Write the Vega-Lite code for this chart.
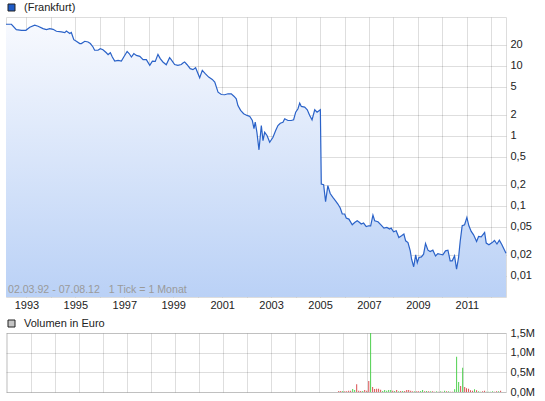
{
  "$schema": "https://vega.github.io/schema/vega-lite/v6.json",
  "background": "white",
  "padding": {"left": 3, "top": 1, "right": 0, "bottom": 0},
  "config": {
    "font": "Liberation Sans",
    "view": {"stroke": "#dddddd"},
    "axis": {"labelFont": "Liberation Sans", "labelFontSize": 11, "labelColor": "#222222", "domain": false, "ticks": false, "title": null, "gridColor": "#000000", "gridOpacity": 0.13, "zindex": 1},
    "legend": {"labelFont": "Liberation Sans", "labelFontSize": 11, "labelColor": "#222222", "title": null, "orient": "none", "symbolType": "square", "symbolSize": 49, "symbolStrokeColor": "#222222", "symbolStrokeWidth": 1, "symbolOpacity": 1, "labelOffset": 7, "padding": 0}
  },
  "datasets": {
    "price": [
      {"d": "1992-03-02", "p": 39.0}, {"d": "1992-05-22", "p": 39.0}, {"d": "1992-08-03", "p": 32.7}, {"d": "1992-10-20", "p": 32.0},
      {"d": "1992-12-24", "p": 32.0}, {"d": "1993-02-20", "p": 35.3}, {"d": "1993-05-05", "p": 37.8}, {"d": "1993-06-24", "p": 36.5},
      {"d": "1993-09-06", "p": 33.8}, {"d": "1993-10-26", "p": 32.7}, {"d": "1993-12-16", "p": 33.8}, {"d": "1994-02-03", "p": 33.0},
      {"d": "1994-03-25", "p": 31.0}, {"d": "1994-06-07", "p": 30.3}, {"d": "1994-07-28", "p": 29.7}, {"d": "1994-08-20", "p": 31.3},
      {"d": "1994-10-10", "p": 28.7}, {"d": "1994-11-02", "p": 29.7}, {"d": "1994-12-09", "p": 23.5}, {"d": "1995-01-16", "p": 22.3},
      {"d": "1995-03-08", "p": 20.7}, {"d": "1995-04-01", "p": 20.7}, {"d": "1995-05-22", "p": 22.3}, {"d": "1995-07-10", "p": 21.8},
      {"d": "1995-08-13", "p": 20.7}, {"d": "1995-09-22", "p": 18.5}, {"d": "1995-10-16", "p": 16.6}, {"d": "1995-12-05", "p": 16.6},
      {"d": "1996-01-08", "p": 17.5}, {"d": "1996-02-17", "p": 16.9}, {"d": "1996-04-08", "p": 15.3}, {"d": "1996-05-04", "p": 14.4},
      {"d": "1996-06-07", "p": 15.3}, {"d": "1996-07-06", "p": 13.3}, {"d": "1996-08-11", "p": 11.6}, {"d": "1996-09-30", "p": 11.9},
      {"d": "1996-11-18", "p": 11.6}, {"d": "1996-12-24", "p": 13.3}, {"d": "1997-02-12", "p": 16.0}, {"d": "1997-03-14", "p": 14.9},
      {"d": "1997-04-17", "p": 13.3}, {"d": "1997-05-23", "p": 14.9}, {"d": "1997-06-30", "p": 14.0}, {"d": "1997-08-20", "p": 13.6},
      {"d": "1997-10-08", "p": 12.2}, {"d": "1997-11-26", "p": 12.2}, {"d": "1998-01-16", "p": 10.1}, {"d": "1998-02-24", "p": 11.6},
      {"d": "1998-04-08", "p": 11.5}, {"d": "1998-05-18", "p": 14.5}, {"d": "1998-06-21", "p": 12.6}, {"d": "1998-07-31", "p": 11.3},
      {"d": "1998-09-19", "p": 10.3}, {"d": "1998-11-08", "p": 13.0}, {"d": "1998-12-02", "p": 12.2}, {"d": "1999-01-22", "p": 10.4},
      {"d": "1999-03-12", "p": 10.1}, {"d": "1999-05-01", "p": 10.4}, {"d": "1999-05-26", "p": 10.9}, {"d": "1999-06-20", "p": 11.3},
      {"d": "1999-07-24", "p": 10.4}, {"d": "1999-09-12", "p": 9.06}, {"d": "1999-10-22", "p": 8.77}, {"d": "1999-12-01", "p": 9.36},
      {"d": "2000-01-31", "p": 6.73}, {"d": "2000-03-10", "p": 8.57}, {"d": "2000-04-23", "p": 7.69}, {"d": "2000-06-13", "p": 6.88},
      {"d": "2000-08-06", "p": 6.37}, {"d": "2000-09-12", "p": 5.83}, {"d": "2000-10-31", "p": 4.19}, {"d": "2000-12-19", "p": 3.88},
      {"d": "2001-02-07", "p": 3.85}, {"d": "2001-03-29", "p": 3.97}, {"d": "2001-05-16", "p": 3.97}, {"d": "2001-06-25", "p": 3.67},
      {"d": "2001-07-30", "p": 3.37}, {"d": "2001-08-24", "p": 2.70}, {"d": "2001-10-03", "p": 2.30}, {"d": "2001-11-17", "p": 2.06},
      {"d": "2002-01-07", "p": 1.95}, {"d": "2002-02-17", "p": 1.88}, {"d": "2002-03-27", "p": 1.65}, {"d": "2002-04-20", "p": 1.26},
      {"d": "2002-05-09", "p": 1.56}, {"d": "2002-06-03", "p": 1.12}, {"d": "2002-07-04", "p": 0.63}, {"d": "2002-08-08", "p": 1.40},
      {"d": "2002-09-02", "p": 0.853}, {"d": "2002-09-27", "p": 1.12}, {"d": "2002-11-01", "p": 1.01}, {"d": "2002-12-11", "p": 0.807},
      {"d": "2003-01-29", "p": 0.953}, {"d": "2003-03-10", "p": 1.19}, {"d": "2003-04-13", "p": 1.40}, {"d": "2003-05-18", "p": 1.51},
      {"d": "2003-06-27", "p": 1.56}, {"d": "2003-07-23", "p": 1.75}, {"d": "2003-09-10", "p": 1.65}, {"d": "2003-10-29", "p": 1.65},
      {"d": "2003-12-03", "p": 1.69}, {"d": "2004-01-03", "p": 2.17}, {"d": "2004-02-06", "p": 2.43}, {"d": "2004-03-03", "p": 2.92},
      {"d": "2004-03-27", "p": 2.62}, {"d": "2004-05-16", "p": 2.56}, {"d": "2004-06-24", "p": 2.35}, {"d": "2004-07-30", "p": 1.95},
      {"d": "2004-09-03", "p": 1.69}, {"d": "2004-10-13", "p": 2.35}, {"d": "2004-11-17", "p": 2.17}, {"d": "2005-01-05", "p": 2.35},
      {"d": "2005-01-19", "p": 0.205}, {"d": "2005-02-23", "p": 0.200}, {"d": "2005-03-24", "p": 0.115}, {"d": "2005-04-27", "p": 0.194},
      {"d": "2005-06-01", "p": 0.150}, {"d": "2005-07-11", "p": 0.132}, {"d": "2005-08-20", "p": 0.118}, {"d": "2005-09-24", "p": 0.106},
      {"d": "2005-10-29", "p": 0.093}, {"d": "2005-11-28", "p": 0.0764}, {"d": "2006-01-03", "p": 0.0764}, {"d": "2006-01-26", "p": 0.0669},
      {"d": "2006-03-07", "p": 0.0647}, {"d": "2006-04-26", "p": 0.0537}, {"d": "2006-06-01", "p": 0.0578}, {"d": "2006-07-09", "p": 0.0612},
      {"d": "2006-08-14", "p": 0.0578}, {"d": "2006-09-07", "p": 0.0550}, {"d": "2006-10-12", "p": 0.0568}, {"d": "2006-11-21", "p": 0.0507},
      {"d": "2006-12-27", "p": 0.0519}, {"d": "2007-01-26", "p": 0.0519}, {"d": "2007-03-01", "p": 0.0738}, {"d": "2007-03-27", "p": 0.0612},
      {"d": "2007-05-15", "p": 0.0593}, {"d": "2007-07-02", "p": 0.0531}, {"d": "2007-08-12", "p": 0.0481}, {"d": "2007-09-25", "p": 0.0491},
      {"d": "2007-11-04", "p": 0.0466}, {"d": "2007-11-28", "p": 0.0481}, {"d": "2008-01-03", "p": 0.0427}, {"d": "2008-02-11", "p": 0.0441},
      {"d": "2008-03-22", "p": 0.0353}, {"d": "2008-05-01", "p": 0.0373}, {"d": "2008-06-05", "p": 0.0395}, {"d": "2008-07-01", "p": 0.0317},
      {"d": "2008-08-05", "p": 0.0299}, {"d": "2008-09-08", "p": 0.0228}, {"d": "2008-09-28", "p": 0.0173}, {"d": "2008-10-29", "p": 0.0135},
      {"d": "2008-11-28", "p": 0.0200}, {"d": "2008-12-22", "p": 0.0155}, {"d": "2009-01-16", "p": 0.0183}, {"d": "2009-02-21", "p": 0.0187},
      {"d": "2009-03-26", "p": 0.0204}, {"d": "2009-04-24", "p": 0.0290}, {"d": "2009-05-30", "p": 0.0233}, {"d": "2009-07-02", "p": 0.0223},
      {"d": "2009-08-11", "p": 0.0233}, {"d": "2009-09-20", "p": 0.0193}, {"d": "2009-10-25", "p": 0.0208}, {"d": "2009-11-29", "p": 0.0204},
      {"d": "2010-01-07", "p": 0.0200}, {"d": "2010-02-16", "p": 0.0228}, {"d": "2010-03-24", "p": 0.0233}, {"d": "2010-04-27", "p": 0.0164},
      {"d": "2010-05-27", "p": 0.0164}, {"d": "2010-07-01", "p": 0.0193}, {"d": "2010-07-31", "p": 0.0125}, {"d": "2010-08-30", "p": 0.0183},
      {"d": "2010-09-23", "p": 0.0310}, {"d": "2010-10-23", "p": 0.0519}, {"d": "2010-11-28", "p": 0.0537}, {"d": "2011-01-01", "p": 0.0683},
      {"d": "2011-01-31", "p": 0.0519}, {"d": "2011-03-07", "p": 0.0431}, {"d": "2011-04-11", "p": 0.0386}, {"d": "2011-05-26", "p": 0.0310},
      {"d": "2011-06-25", "p": 0.0365}, {"d": "2011-08-03", "p": 0.0361}, {"d": "2011-09-23", "p": 0.0416}, {"d": "2011-10-17", "p": 0.0294},
      {"d": "2011-11-26", "p": 0.0278}, {"d": "2012-01-14", "p": 0.0299}, {"d": "2012-02-17", "p": 0.032}, {"d": "2012-03-25", "p": 0.0285},
      {"d": "2012-04-30", "p": 0.0323}, {"d": "2012-06-05", "p": 0.028}, {"d": "2012-08-07", "p": 0.021}
    ],
    "vol": [
      {"d": "2005-11-01", "v": 25000, "dir": "down"}, {"d": "2005-12-01", "v": 25000, "dir": "down"}, {"d": "2006-01-01", "v": 25000, "dir": "up"},
      {"d": "2006-02-01", "v": 17000, "dir": "down"}, {"d": "2006-03-01", "v": 17000, "dir": "down"}, {"d": "2006-04-01", "v": 34000, "dir": "down"},
      {"d": "2006-05-01", "v": 34000, "dir": "down"}, {"d": "2006-06-01", "v": 77000, "dir": "up"}, {"d": "2006-07-01", "v": 51000, "dir": "up"},
      {"d": "2006-08-01", "v": 200000, "dir": "down"}, {"d": "2006-09-01", "v": 34000, "dir": "down"}, {"d": "2006-10-01", "v": 25000, "dir": "down"},
      {"d": "2006-11-01", "v": 25000, "dir": "up"}, {"d": "2006-12-01", "v": 51000, "dir": "down"}, {"d": "2007-01-01", "v": 30000, "dir": "down"},
      {"d": "2007-02-01", "v": 280000, "dir": "down"}, {"d": "2007-03-01", "v": 1500000, "dir": "up"}, {"d": "2007-04-01", "v": 130000, "dir": "down"},
      {"d": "2007-05-01", "v": 77000, "dir": "down"}, {"d": "2007-06-01", "v": 85000, "dir": "down"}, {"d": "2007-07-01", "v": 85000, "dir": "down"},
      {"d": "2007-08-01", "v": 60000, "dir": "down"}, {"d": "2007-09-01", "v": 25000, "dir": "up"}, {"d": "2007-10-01", "v": 51000, "dir": "up"},
      {"d": "2007-11-01", "v": 34000, "dir": "up"}, {"d": "2007-12-01", "v": 51000, "dir": "up"}, {"d": "2008-01-01", "v": 51000, "dir": "up"},
      {"d": "2008-02-01", "v": 34000, "dir": "down"}, {"d": "2008-03-01", "v": 25000, "dir": "up"}, {"d": "2008-04-01", "v": 51000, "dir": "down"},
      {"d": "2008-05-01", "v": 17000, "dir": "up"}, {"d": "2008-06-01", "v": 25000, "dir": "down"}, {"d": "2008-07-01", "v": 25000, "dir": "up"},
      {"d": "2008-08-01", "v": 25000, "dir": "down"}, {"d": "2008-09-01", "v": 51000, "dir": "down"}, {"d": "2008-10-01", "v": 51000, "dir": "down"},
      {"d": "2008-11-01", "v": 34000, "dir": "down"}, {"d": "2008-12-01", "v": 17000, "dir": "down"}, {"d": "2009-01-01", "v": 17000, "dir": "up"},
      {"d": "2009-02-01", "v": 17000, "dir": "down"}, {"d": "2009-03-01", "v": 17000, "dir": "down"}, {"d": "2009-04-01", "v": 25000, "dir": "up"},
      {"d": "2009-05-01", "v": 51000, "dir": "up"}, {"d": "2009-06-01", "v": 17000, "dir": "down"}, {"d": "2009-07-01", "v": 25000, "dir": "up"},
      {"d": "2009-08-01", "v": 17000, "dir": "down"}, {"d": "2009-09-01", "v": 17000, "dir": "up"}, {"d": "2009-10-01", "v": 17000, "dir": "down"},
      {"d": "2009-11-01", "v": 9000, "dir": "down"}, {"d": "2009-12-01", "v": 17000, "dir": "up"}, {"d": "2010-01-01", "v": 9000, "dir": "down"},
      {"d": "2010-02-01", "v": 17000, "dir": "up"}, {"d": "2010-03-01", "v": 9000, "dir": "down"}, {"d": "2010-04-01", "v": 34000, "dir": "up"},
      {"d": "2010-05-01", "v": 17000, "dir": "down"}, {"d": "2010-06-01", "v": 17000, "dir": "up"}, {"d": "2010-07-01", "v": 9000, "dir": "down"},
      {"d": "2010-08-01", "v": 9000, "dir": "down"}, {"d": "2010-09-01", "v": 68000, "dir": "up"}, {"d": "2010-10-01", "v": 895000, "dir": "up"},
      {"d": "2010-11-01", "v": 256000, "dir": "up"}, {"d": "2010-12-01", "v": 153000, "dir": "down"}, {"d": "2011-01-01", "v": 614000, "dir": "up"},
      {"d": "2011-02-01", "v": 128000, "dir": "down"}, {"d": "2011-03-01", "v": 94000, "dir": "down"}, {"d": "2011-04-01", "v": 85000, "dir": "down"},
      {"d": "2011-05-01", "v": 43000, "dir": "down"}, {"d": "2011-06-01", "v": 34000, "dir": "down"}, {"d": "2011-07-01", "v": 68000, "dir": "up"},
      {"d": "2011-08-01", "v": 43000, "dir": "down"}, {"d": "2011-09-01", "v": 17000, "dir": "up"}, {"d": "2011-10-01", "v": 9000, "dir": "up"},
      {"d": "2011-11-01", "v": 17000, "dir": "down"}, {"d": "2011-12-01", "v": 34000, "dir": "down"}, {"d": "2012-01-01", "v": 9000, "dir": "up"},
      {"d": "2012-02-01", "v": 9000, "dir": "up"}, {"d": "2012-03-01", "v": 9000, "dir": "up"}, {"d": "2012-04-01", "v": 17000, "dir": "up"},
      {"d": "2012-05-01", "v": 9000, "dir": "down"}, {"d": "2012-06-01", "v": 17000, "dir": "down"}, {"d": "2012-07-01", "v": 17000, "dir": "up"},
      {"d": "2012-08-01", "v": 34000, "dir": "down"}
    ]
  },
  "spacing": 6,
  "resolve": {"scale": {"fill": "independent"}, "legend": {"fill": "independent"}},
  "vconcat": [
    {
      "width": 500,
      "height": 280,
      "layer": [
        {
          "data": {"name": "price"},
          "mark": {"type": "area", "color": {"gradient": "linear", "x1": 0, "y1": 0, "x2": 0, "y2": 1, "stops": [{"offset": 0, "color": "#f7f9fe"}, {"offset": 1, "color": "#bad1f6"}]}},
          "encoding": {
            "x": {"field": "d", "type": "temporal", "scale": {"type": "utc", "domain": [{"year": 1992, "month": 3, "date": 2, "utc": true}, {"year": 2012, "month": 8, "date": 7, "utc": true}]},
                  "axis": {"tickCount": {"interval": "year", "step": 1}, "labelExpr": "utcyear(datum.value) % 2 == 1 ? utcFormat(datum.value, '%Y') : ''", "labelPadding": 2, "labelFlush": false, "labelOverlap": false}},
            "y": {"field": "p", "type": "quantitative", "scale": {"type": "log", "domain": [0.005, 49.5], "nice": false},
                  "axis": {"orient": "right", "values": [0.01, 0.02, 0.05, 0.1, 0.2, 0.5, 1, 2, 5, 10, 20], "labelExpr": "replace(format(datum.value, '~g'), '.', ',')", "labelPadding": 4}},
            "y2": {"datum": 0.005}
          }
        },
        {
          "data": {"name": "price"},
          "mark": {"type": "line", "color": "#2a62c8", "strokeWidth": 1.2},
          "encoding": {
            "x": {"field": "d", "type": "temporal"},
            "y": {"field": "p", "type": "quantitative"}
          }
        },
        {
          "data": {"values": [{"t": "02.03.92 - 07.08.12\u00a0\u00a0\u00a01 Tick = 1 Monat"}]},
          "mark": {"type": "text", "align": "left", "baseline": "bottom", "dx": 2, "dy": -2, "color": "#9a9a9a", "fontSize": 10.6, "font": "Liberation Sans"},
          "encoding": {
            "x": {"datum": {"year": 1992, "month": 3, "date": 2, "utc": true}, "type": "temporal"},
            "y": {"datum": 0.005, "type": "quantitative"},
            "text": {"field": "t"}
          }
        },
        {
          "data": {"values": []},
          "mark": {"type": "square", "filled": true, "opacity": 1, "stroke": "#222222", "strokeWidth": 1},
          "encoding": {
            "fill": {"datum": "(Frankfurt)", "scale": {"range": ["#1f5bc6"]}, "legend": {"legendX": 0, "legendY": -15}}
          }
        }
      ]
    },
    {
      "width": 500,
      "height": 59,
      "layer": [
        {
          "data": {"name": "vol"},
          "mark": {"type": "bar", "width": 1},
          "encoding": {
            "x": {"field": "d", "type": "temporal", "scale": {"type": "utc", "domain": [{"year": 1992, "month": 3, "date": 2, "utc": true}, {"year": 2012, "month": 8, "date": 7, "utc": true}]},
                  "axis": {"tickCount": {"interval": "year", "step": 1}, "labels": false}},
            "y": {"field": "v", "type": "quantitative", "scale": {"domain": [0, 1500000], "nice": false},
                  "axis": {"orient": "right", "values": [0, 500000, 1000000, 1500000], "labelExpr": "replace(format(datum.value / 1000000, '.1f'), '.', ',') + 'M'", "labelPadding": 4}},
            "color": {"field": "dir", "type": "nominal", "scale": {"domain": ["up", "down"], "range": ["#4fd04f", "#d94f4f"]}, "legend": null}
          }
        },
        {
          "data": {"values": []},
          "mark": {"type": "square", "filled": true, "opacity": 1, "stroke": "#222222", "strokeWidth": 1},
          "encoding": {
            "fill": {"datum": "Volumen in Euro", "scale": {"range": ["#c4c4c4"]}, "legend": {"legendX": 0, "legendY": -15}}
          }
        }
      ]
    }
  ]
}
